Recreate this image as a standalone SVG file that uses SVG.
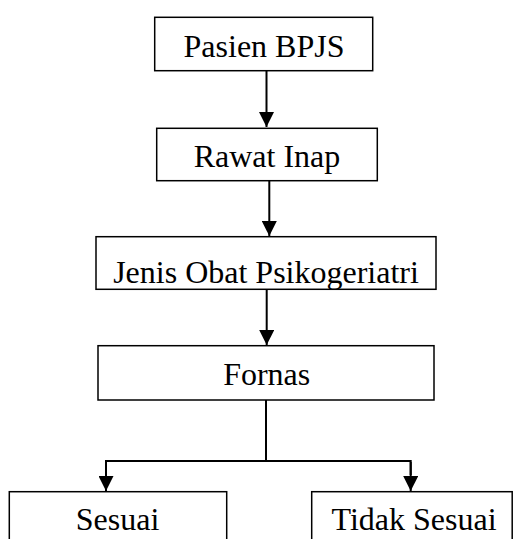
<svg xmlns="http://www.w3.org/2000/svg" width="513" height="539" viewBox="0 0 513 539">
<style>
.box{fill:#fff;stroke:#000;stroke-width:1.5}
.lbl{font-family:"Liberation Serif","Times New Roman",serif;font-size:32px;fill:#000;text-anchor:middle}
.con{stroke:#000;stroke-width:2;fill:none}
</style>
<defs>
<marker id="ah" markerUnits="userSpaceOnUse" markerWidth="15" markerHeight="15" refX="15" refY="7.5" orient="auto">
<path d="M0,0 L15,7.5 L0,15 z" fill="#000"/>
</marker>
</defs>
<rect width="513" height="539" fill="#fff"/>
<g id="connectors">
<line class="con" x1="266.5" y1="71" x2="266.5" y2="127" marker-end="url(#ah)"/>
<line class="con" x1="269.3" y1="181" x2="269.3" y2="236" marker-end="url(#ah)"/>
<line class="con" x1="266.7" y1="289.5" x2="266.7" y2="345" marker-end="url(#ah)"/>
<polyline class="con" points="266,400 266,461"/>
<polyline class="con" points="106,475 106,461 410.7,461 410.7,475"/>
<line class="con" x1="106" y1="462" x2="106" y2="491" marker-end="url(#ah)"/>
<line class="con" x1="410.7" y1="462" x2="410.7" y2="491" marker-end="url(#ah)"/>
</g>
<g id="n1">
<rect class="box" x="154.7" y="17.3" width="218" height="53.4"/>
<text class="lbl" x="264" y="56.7">Pasien BPJS</text>
</g>
<g id="n2">
<rect class="box" x="156.7" y="128.3" width="220.6" height="52.4"/>
<text class="lbl" x="267" y="167.3">Rawat Inap</text>
</g>
<g id="n3">
<rect class="box" x="96" y="236.7" width="340" height="52.6"/>
<text class="lbl" x="266" y="283.3">Jenis Obat Psikogeriatri</text>
</g>
<g id="n4">
<rect class="box" x="98" y="345.7" width="336" height="54.3"/>
<text class="lbl" x="266.7" y="385">Fornas</text>
</g>
<g id="n5">
<rect class="box" x="9.3" y="491.7" width="217.4" height="60"/>
<text class="lbl" x="117.5" y="530">Sesuai</text>
</g>
<g id="n6">
<rect class="box" x="311.7" y="491.7" width="200.5" height="60"/>
<text class="lbl" x="414" y="530">Tidak Sesuai</text>
</g>
</svg>
